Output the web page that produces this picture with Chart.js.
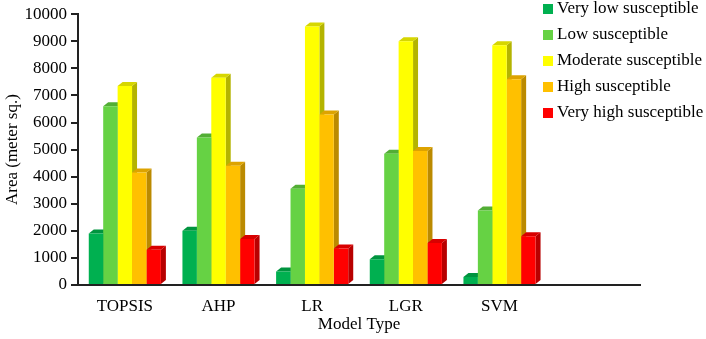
<!DOCTYPE html>
<html>
<head>
<meta charset="utf-8">
<script src="https://cdn.jsdelivr.net/npm/chart.js@4.4.0/dist/chart.umd.min.js"></script>
<style>
  html, body { margin: 0; padding: 0; background: #fff; }
  #wrap { width: 706px; height: 339px; }
</style>
</head>
<body>
<div id="wrap"><canvas id="chart"></canvas></div>
<script>
"use strict";

// data
const models = ['TOPSIS', 'AHP', 'LR', 'LGR', 'SVM', ''];
const seriesNames = ['Very low susceptible', 'Low susceptible', 'Moderate susceptible', 'High susceptible', 'Very high susceptible'];
const veryLow = [1900, 2000, 500, 950, 300];
const low = [6600, 5450, 3550, 4850, 2750];
const moderate = [7350, 7650, 9550, 9000, 8850];
const high = [4150, 4400, 6300, 4950, 7600];
const veryHigh = [1300, 1700, 1350, 1550, 1800];

const frontColors = ['#00B050', '#66D244', '#FFFF00', '#FFC000', '#FF0000'];
const topColors = ['#00943F', '#52AE35', '#D6D600', '#DDA300', '#D80000'];
const sideColors = ['#007D36', '#46952D', '#B4B400', '#BB8A00', '#B80000'];

const serif = "'Liberation Serif', 'Times New Roman', serif";

const bars3d = {
  id: 'bars3d',
  beforeDatasetsDraw(chart) {
    const ctx = chart.ctx;
    const dx = 5, dy = 4;
    ctx.save();
    chart.data.datasets.forEach((ds, i) => {
      chart.getDatasetMeta(i).data.forEach(bar => {
        const { x, y, base, width } = bar.getProps(['x', 'y', 'base', 'width'], true);
        const l = x - width / 2, r = x + width / 2;
        ctx.fillStyle = sideColors[i];
        ctx.beginPath();
        ctx.moveTo(r, y);
        ctx.lineTo(r + dx, y - dy);
        ctx.lineTo(r + dx, base - dy);
        ctx.lineTo(r, base);
        ctx.closePath();
        ctx.fill();
        ctx.fillStyle = topColors[i];
        ctx.beginPath();
        ctx.moveTo(l, y);
        ctx.lineTo(l + dx, y - dy);
        ctx.lineTo(r + dx, y - dy);
        ctx.lineTo(r, y);
        ctx.closePath();
        ctx.fill();
      });
    });
    ctx.restore();
  }
};

const sideLegend = {
  id: 'sideLegend',
  afterDraw(chart) {
    const ctx = chart.ctx;
    ctx.save();
    ctx.font = '17px ' + serif;
    ctx.textBaseline = 'middle';
    seriesNames.forEach((name, i) => {
      const yc = 9 + i * 26;
      ctx.fillStyle = frontColors[i];
      ctx.fillRect(543, yc - 5, 10, 10);
      ctx.fillStyle = '#000';
      ctx.fillText(name, 557, yc);
    });
    ctx.restore();
  }
};

const seriesValues = [veryLow, low, moderate, high, veryHigh];

new Chart(document.getElementById('chart'), {
  type: 'bar',
  data: {
    labels: models,
    datasets: seriesNames.map((name, i) => ({
      label: name,
      data: seriesValues[i],
      backgroundColor: frontColors[i],
      borderWidth: 0,
      barPercentage: 1,
      categoryPercentage: 0.77,
    })),
  },
  options: {
    responsive: true,
    maintainAspectRatio: false,
    animation: false,
    layout: { padding: { top: 13, right: 66, left: 2, bottom: 0 } },
    plugins: {
      legend: { display: false },
      tooltip: { enabled: false },
    },
    scales: {
      x: {
        afterFit(scale) { scale.height = 54; },
        grid: { display: false, drawTicks: false },
        border: { display: true, color: '#222', width: 2 },
        ticks: { color: '#000', font: { family: serif, size: 17 }, padding: 11 },
        title: { display: true, text: 'Model Type', color: '#000', font: { family: serif, size: 17 }, padding: { top: 3 } },
      },
      y: {
        min: 0,
        max: 10000,
        afterFit(scale) { scale.width = 76; },
        grid: { drawOnChartArea: false, drawTicks: true, tickLength: 7, color: '#222', lineWidth: 2 },
        border: { display: true, color: '#222', width: 2 },
        ticks: {
          stepSize: 1000, color: '#000', font: { family: serif, size: 17 }, padding: 4,
          callback: v => String(v),
        },
        title: { display: true, text: 'Area (meter sq.)', color: '#000', font: { family: serif, size: 17 }, padding: 0 },
      },
    },
  },
  plugins: [bars3d, sideLegend],
});
</script>
</body>
</html>
